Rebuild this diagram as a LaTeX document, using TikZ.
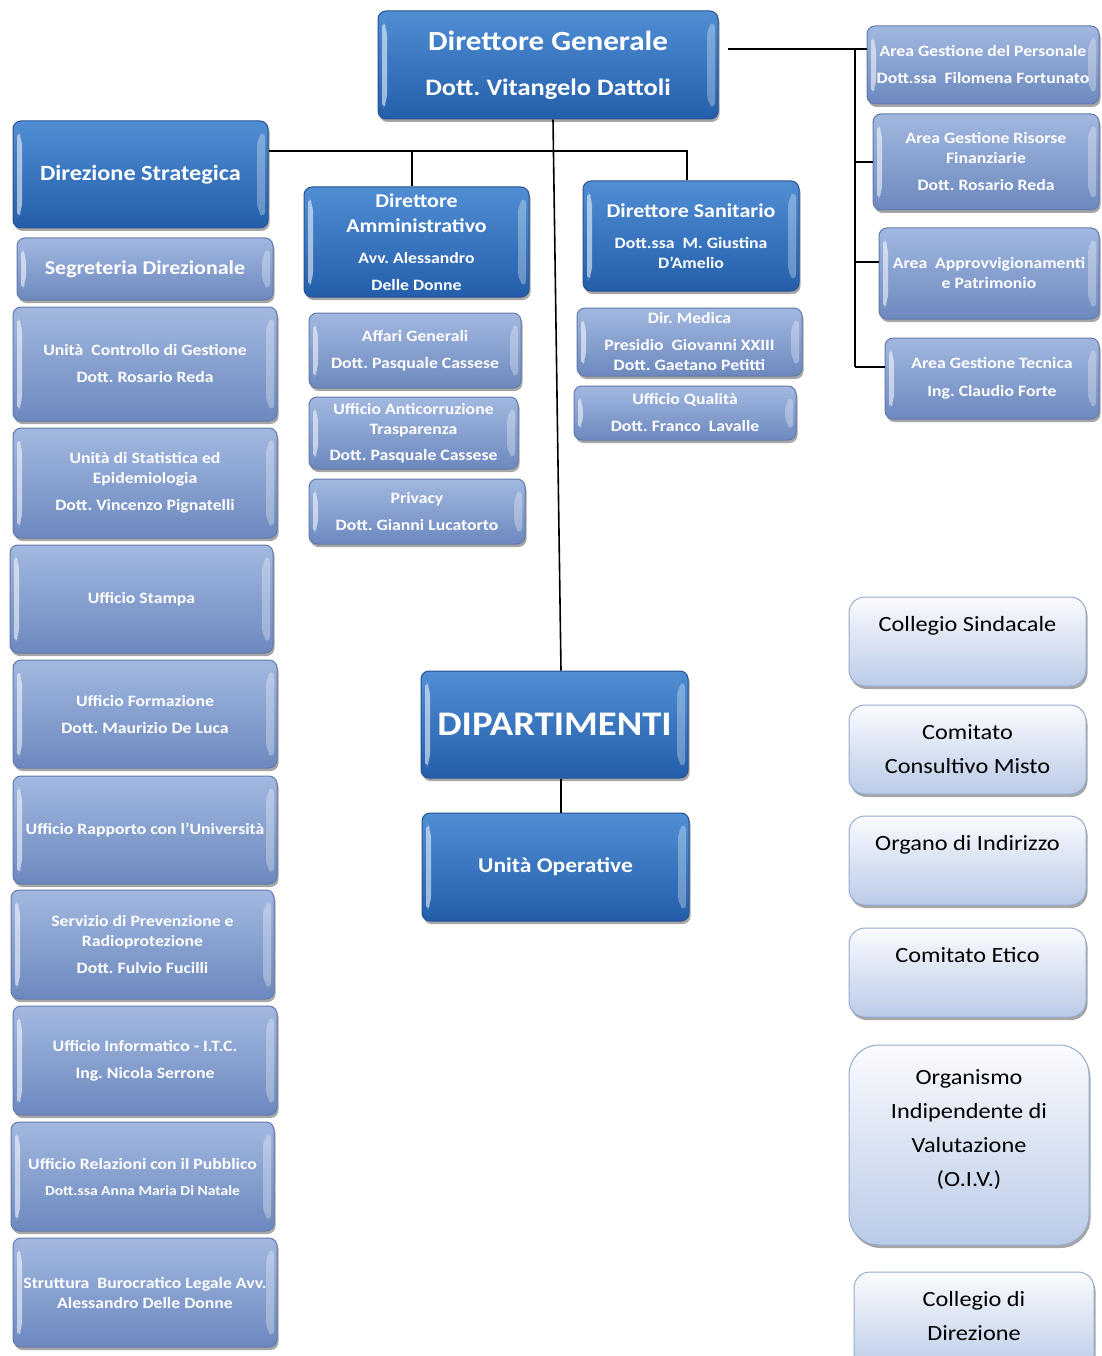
\documentclass[tikz,border=0pt]{standalone}
\usepackage{fontspec}
\setmainfont{Carlito}[FakeStretch=1.12]
\usetikzlibrary{shadows}
\definecolor{dkT}{RGB}{80,142,212}
\definecolor{dkB}{RGB}{36,94,170}
\definecolor{dkD}{RGB}{38,82,146}
\definecolor{stT}{RGB}{162,184,224}
\definecolor{stB}{RGB}{108,136,190}
\definecolor{stD}{RGB}{98,122,172}
\definecolor{ltT}{RGB}{250,251,254}
\definecolor{ltB}{RGB}{186,203,231}
\definecolor{ltD}{RGB}{150,172,205}
\newcommand\fsz[2]{\fontsize{#1}{#2}\selectfont}
\frenchspacing
\tikzset{
  bevel/.style={path picture={
    \fill[white,opacity=0.55] ([xshift=4pt,yshift=-9pt]path picture bounding box.north west) -- ([xshift=9pt,yshift=-17pt]path picture bounding box.north west) -- ([xshift=9pt,yshift=17pt]path picture bounding box.south west) -- ([xshift=4pt,yshift=9pt]path picture bounding box.south west) -- cycle;
    \fill[white,opacity=0.3] ([xshift=-3pt,yshift=-9pt]path picture bounding box.north east) -- ([xshift=-11pt,yshift=-17pt]path picture bounding box.north east) -- ([xshift=-11pt,yshift=17pt]path picture bounding box.south east) -- ([xshift=-3pt,yshift=9pt]path picture bounding box.south east) -- cycle;
  }},
  dshadow/.style={drop shadow={shadow xshift=1.5pt,shadow yshift=-3pt,fill=black,opacity=0.35}},
  dkbox/.style={dshadow,draw=dkD,line width=1pt,top color=dkT,bottom color=dkB,rounded corners=8pt,
    bevel,inner sep=0pt,align=center,text=white,font=\frenchspacing\bfseries\fsz{15.8}{20}},
  stbox/.style={dshadow,draw=stD,line width=1pt,top color=stT,bottom color=stB,rounded corners=8pt,
    bevel,inner sep=0pt,align=center,text=white,font=\frenchspacing\bfseries\fsz{15.8}{20}},
  ltbox/.style={dshadow,draw=ltD,line width=1pt,top color=ltT,bottom color=ltB,rounded corners=16pt,inner sep=0pt},
  lttext/.style={anchor=north,inner sep=0pt,align=center,text=black,font=\frenchspacing\fsz{21.7}{34}},
  conn/.style={draw=black,line width=1.6pt},
}
\begin{document}
\begin{tikzpicture}[x=1pt,y=-1pt]
\useasboundingbox[fill=white] (0,0) rectangle (1101,1356);

% ---------- top ----------
\node[dkbox,minimum width=340,minimum height=108,font=\frenchspacing\bfseries\fsz{23.6}{45}] (dg) at (548,65)
  {\fsz{27.7}{45}Direttore Generale\\Dott. Vitangelo Dattoli};

% ---------- right areas ----------
\node[stbox,minimum width=232,minimum height=78] (agp) at (983,65)
  {Area Gestione del Personale\\[7pt]Dott.ssa\ \ Filomena Fortunato};
\node[stbox,minimum width=226,minimum height=96] (agr) at (986,162)
  {Area Gestione Risorse\\Finanziarie\\[7pt]Dott. Rosario Reda};
\node[stbox,minimum width=220,minimum height=91] (aap) at (989,273.5)
  {Area\ \ Approvvigionamenti\\e Patrimonio};
\node[stbox,minimum width=214,minimum height=81] (agt) at (992,378.5)
  {Area Gestione Tecnica\\[8pt]Ing. Claudio Forte};

% ---------- left column ----------
\node[dkbox,minimum width=255,minimum height=107] (ds) at (140.5,174.5)
  {\fsz{21.7}{26}Direzione Strategica};
\node[stbox,minimum width=256,minimum height=62] (seg) at (145,269)
  {\fsz{19.6}{24}Segreteria Direzionale};
\node[stbox,minimum width=264,minimum height=114] (ucg) at (145,364)
  {Unità\ \ Controllo di Gestione\\[7pt]Dott. Rosario Reda};
\node[stbox,minimum width=264,minimum height=110] (ust) at (145,483)
  {Unità di Statistica ed\\Epidemiologia\\[7pt]Dott. Vincenzo Pignatelli};
\node[stbox,minimum width=263,minimum height=108] (ustampa) at (141.5,599)
  {Ufficio Stampa};
\node[stbox,minimum width=264,minimum height=108] (ufor) at (145,714)
  {Ufficio Formazione\\[7pt]Dott. Maurizio De Luca};
\node[stbox,minimum width=264,minimum height=108] (urap) at (145,830)
  {Ufficio Rapporto con l'Università};
\node[stbox,minimum width=263,minimum height=109] (sprev) at (142.5,944.5)
  {Servizio di Prevenzione e\\Radioprotezione\\[7pt]Dott. Fulvio Fucilli};
\node[stbox,minimum width=264,minimum height=109] (uinf) at (145,1060.5)
  {Ufficio Informatico - I.T.C.\\[7pt]Ing. Nicola Serrone};
\node[stbox,minimum width=263,minimum height=109] (urel) at (142.5,1176.5)
  {Ufficio Relazioni con il Pubblico\\[6pt]\fsz{13.9}{20}Dott.ssa Anna Maria Di Natale};
\node[stbox,minimum width=264,minimum height=109] (sbur) at (145,1292.5)
  {Struttura\ \ Burocratico Legale Avv.\\Alessandro Delle Donne};

% ---------- middle ----------
\node[dkbox,minimum width=225,minimum height=110,font=\frenchspacing\bfseries\fsz{15.8}{25}] (da) at (416.5,242)
  {\fsz{19.6}{25}Direttore\\\fsz{19.6}{25}Amministrativo\\[6pt]Avv. Alessandro\\[2pt]Delle Donne};
\node[stbox,minimum width=212,minimum height=75] (aff) at (415,350.5)
  {Affari Generali\\[7pt]Dott. Pasquale Cassese};
\node[stbox,minimum width=209,minimum height=72] (anti) at (413.5,433)
  {Ufficio Anticorruzione\\Trasparenza\\[6pt]Dott. Pasquale Cassese};
\node[stbox,minimum width=216,minimum height=65] (priv) at (417,511.5)
  {Privacy\\[7pt]Dott. Gianni Lucatorto};

\node[dkbox,minimum width=216,minimum height=110] (dsan) at (691,236)
  {\fsz{19.6}{20}Direttore Sanitario\\[11pt]Dott.ssa\ \ M. Giustina\\D'Amelio};
\node[stbox,minimum width=225,minimum height=68] (dmed) at (689.5,342)
  {Dir. Medica\\[7pt]Presidio\ \ Giovanni XXIII\\Dott. Gaetano Petitti};
\node[stbox,minimum width=222,minimum height=54] (uqual) at (685,413)
  {Ufficio Qualità\\[7pt]Dott. Franco\ \ Lavalle};

\node[dkbox,minimum width=267,minimum height=107] (dip) at (554.5,724.5)
  {\fsz{34.5}{40}DIPARTIMENTI};
\node[dkbox,minimum width=267,minimum height=108] (uop) at (555.5,867)
  {\fsz{21}{25}Unità Operative};

% ---------- right light boxes ----------
\node[ltbox,minimum width=237,minimum height=89] (cs) at (967.5,641.5) {};
\node[lttext] (cst) at ([yshift=-20pt]cs.north) {Collegio Sindacale};
\node[ltbox,minimum width=237,minimum height=89] (ccm) at (967.5,749.5) {};
\node[lttext] (ccmt) at ([yshift=-20pt]ccm.north) {Comitato\\Consultivo Misto};
\node[ltbox,minimum width=237,minimum height=89] (oi) at (967.5,860.5) {};
\node[lttext] (oit) at ([yshift=-20pt]oi.north) {Organo di Indirizzo};
\node[ltbox,minimum width=237,minimum height=89] (ce) at (967.5,972.5) {};
\node[lttext] (cet) at ([yshift=-20pt]ce.north) {Comitato Etico};
\node[ltbox,rounded corners=30pt,minimum width=240,minimum height=200] (oiv) at (969,1145) {};
\node[lttext] (oivt) at ([yshift=-25pt]oiv.north) {Organismo\\Indipendente di\\Valutazione\\(O.I.V.)};
\node[ltbox,minimum width=240,minimum height=100] (cdd) at (974,1322) {};
\node[lttext] (cddt) at ([yshift=-20pt]cdd.north) {Collegio di\\Direzione};

% ---------- connectors ----------
\coordinate (j0) at (855,49);
\coordinate (j1) at (855,162);
\coordinate (j2) at (855,262);
\coordinate (j3) at (855,367);
\draw[conn] ([xshift=9pt]dg.east |- j0) -- (j0) -- (agp.west |- j0);
\draw[conn] (j0) -- (j3);
\draw[conn] (j1) -- (agr.west |- j1);
\draw[conn] (j2) -- (aap.west |- j2);
\draw[conn] (j3) -- (agt.west |- j3);

\coordinate (h1) at (412,151);
\coordinate (h2) at (687,151);
\draw[conn] (ds.east |- h1) -- (h2) -- (h2 |- dsan.north);
\draw[conn] (h1) -- (h1 |- da.north);

\draw[conn] ([xshift=5pt]dg.south) -- ([xshift=6.5pt]dip.north);
\draw[conn] ([xshift=6.5pt]dip.south) -- ([xshift=5.5pt]uop.north);
\end{tikzpicture}
\end{document}
